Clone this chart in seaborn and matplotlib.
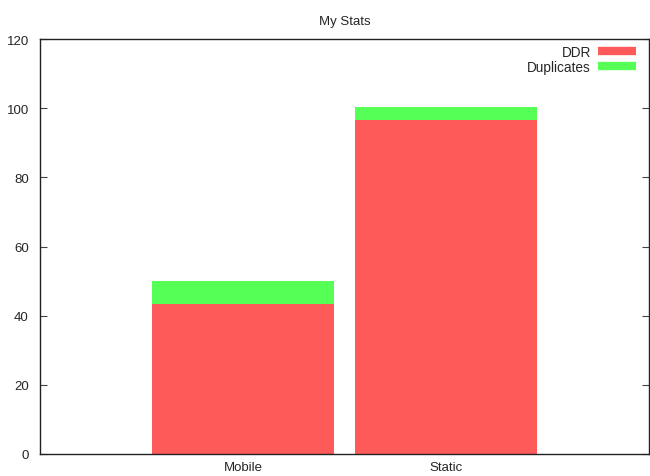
"""Stacked bar chart: My Stats."""

import matplotlib.pyplot as plt
import pandas as pd
import seaborn as sns
from matplotlib.lines import Line2D

categories = ["Mobile", "Static"]
ddr = [43.4, 96.7]
duplicates = [6.6, 3.5]

RED = "#ff5a5a"
GREEN = "#55ff55"

sns.set_style("white")
plt.rcParams["font.family"] = ["Liberation Sans", "DejaVu Sans"]

df = pd.DataFrame({"category": categories, "DDR": ddr, "Duplicates": duplicates})
df["total"] = df["DDR"] + df["Duplicates"]

fig = plt.figure(figsize=(6.5, 4.77), dpi=100)
ax = fig.add_axes([40 / 650, 22 / 477, 609 / 650, 415 / 477])

# stacked: draw total (green) first, then DDR (red) over it
sns.barplot(data=df, x="category", y="total", order=categories, color=GREEN,
            width=0.9, saturation=1, linewidth=0, ax=ax)
sns.barplot(data=df, x="category", y="DDR", order=categories, color=RED,
            width=0.9, saturation=1, linewidth=0, ax=ax)

ax.set_xlim(-1, 2)
ax.set_ylim(0, 120)
ax.set_yticks(range(0, 121, 20))
ax.set_xlabel("")
ax.set_ylabel("")
ax.set_title("My Stats", fontsize=9.5, pad=11)

for side in ["left", "right", "top", "bottom"]:
    ax.spines[side].set_visible(True)
    ax.spines[side].set_color("#222222")
    ax.spines[side].set_linewidth(1.0)

ax.tick_params(axis="y", direction="in", length=5, width=0.8, color="#444444",
               right=True, left=True, labelsize=9.5, pad=8)
ax.tick_params(axis="x", length=0, labelsize=9.5, pad=5)

handles = [
    Line2D([], [], color=RED, linewidth=6, solid_capstyle="butt"),
    Line2D([], [], color=GREEN, linewidth=6, solid_capstyle="butt"),
]
ax.legend(handles, ["DDR", "Duplicates"], loc="upper right", frameon=False,
          markerfirst=False, fontsize=9.8, handlelength=2.8, handletextpad=0.5,
          labelspacing=0.05, borderaxespad=0.3, bbox_to_anchor=(0.994, 1.008))

fig.savefig("out.png", dpi=100)
plt.close(fig)
